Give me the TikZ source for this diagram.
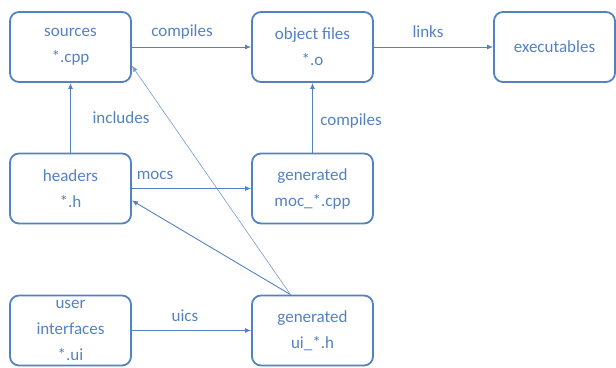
\documentclass[tikz,border=0pt]{standalone}
\usepackage{fontspec}
\setmainfont{Carlito}
\usetikzlibrary{arrows.meta}
\usetikzlibrary{positioning}
\definecolor{qtblue}{RGB}{84,130,192}

\begin{document}
\begin{tikzpicture}[
  x=1pt, y=-1pt,
  box/.style={draw=qtblue, line width=1.8pt, rounded corners=9pt, minimum width=121pt, minimum height=70pt, align=center, text=qtblue, font=\fontsize{17}{26}\selectfont},
  arr/.style={-{Latex[length=6pt,width=5pt]}, draw=qtblue, line width=0.9pt},
  thin/.style={-{Latex[length=6pt,width=5pt]}, draw=qtblue!80, line width=0.6pt},
  lbl/.style={text=qtblue, font=\fontsize{17}{20}\selectfont}
]
\useasboundingbox (0,0) rectangle (616,367);
\clip (0,0) rectangle (616,367);

%% Row 1
\node[box] (src) at (70.5, 47) {sources\\*.cpp};
\node[box] (obj) at (312.5,47) {object files\\*.o};
\node[box] (exe) at (554.5,47) {executables};

\draw[arr] (src)--(obj);
\draw[arr] (obj)--(exe);
\node[lbl] at (182,32) {compiles};
\node[lbl] at (428,32) {links};

%% Row 2
\node[box] (hdr) at (70.5, 188.5) {headers\\*.h};
\node[box] (moc) at (312.5,188.5) {generated\\moc\_*.cpp};

\draw[arr] (hdr)--(moc);
\draw[arr] (hdr)--(src);
\draw[arr] (moc)--(obj);
\node[lbl] at (155,175) {mocs};
\node[lbl] at (121,118) {includes};
\node[lbl] at (351,121) {compiles};

%% Row 3
\node[box] (usr) at (70.5, 330.5) {user\\interfaces\\*.ui};
\node[box] (uih) at (312.5,330.5) {generated\\ui\_*.h};

\draw[arr] (usr)--(uih);
\node[lbl] at (185,316) {uics};

%% ui headers are included by sources and headers
\coordinate (uitop) at ([xshift=-22pt]uih.north);
\draw[arr] (uitop)--(hdr.-11);
\draw[thin] (uitop)--(src.-17);

\end{tikzpicture}
\end{document}
